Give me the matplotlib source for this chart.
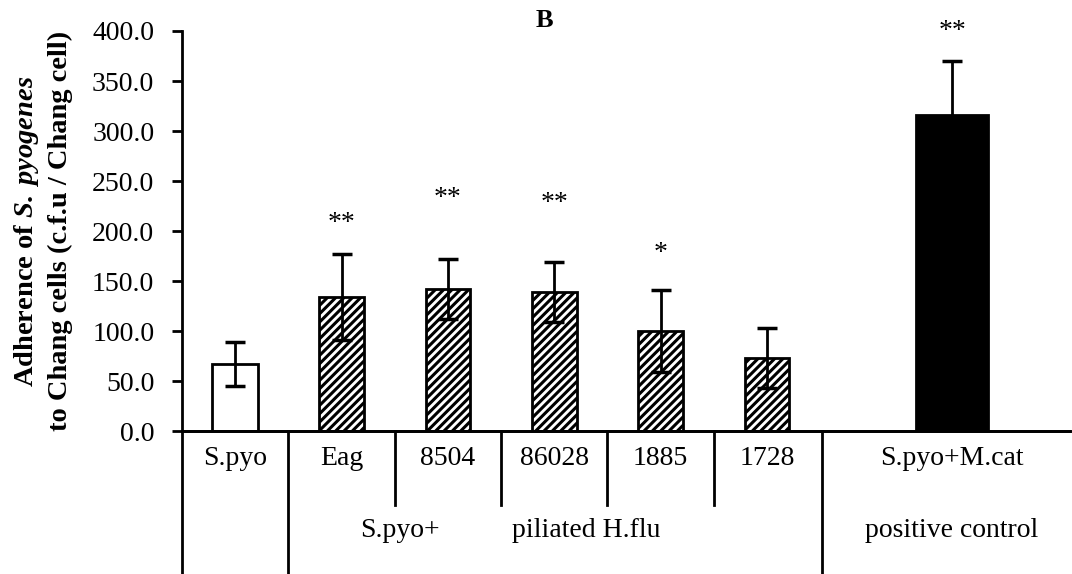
import numpy as np
import matplotlib.pyplot as plt
import matplotlib.transforms as mtransforms

plt.rcParams['font.family'] = ['Liberation Serif', 'DejaVu Serif']
plt.rcParams['mathtext.fontset'] = 'custom'
plt.rcParams['mathtext.rm'] = 'Liberation Serif:bold'
plt.rcParams['mathtext.bfit'] = 'Liberation Serif:bold:italic'
plt.rcParams['hatch.linewidth'] = 2.2

# Dados
categorias = ['S.pyo', 'Eag', '8504', '86028', '1885', '1728', 'S.pyo+M.cat']
medias = [67, 134, 142, 139, 100, 73, 316]
erros = [22, 43, 30, 30, 41, 30, 54]
estrelas = ['', '**', '**', '**', '*', '', '**']
y_estrelas = [0, 208, 233, 228, 178, 0, 399]
grupos = ['S.pyo+', 'piliated H.flu', 'positive control']

# posições no eixo x
pos = np.array([0, 1, 2, 3, 4, 5, 6.74])
larguras = [0.43, 0.42, 0.42, 0.42, 0.42, 0.42, 0.67]
cores = ['white', 'white', 'white', 'white', 'white', 'white', 'black']
hatches = [None, '////', '////', '////', '////', '////', None]

fig = plt.figure(figsize=(10.72, 5.74), dpi=100)
ax = fig.add_axes([0.1698, 0.249, 0.8285, 0.697])

for i in range(len(categorias)):
    ax.bar(pos[i], medias[i], width=larguras[i], color=cores[i],
           edgecolor='black', linewidth=2, hatch=hatches[i], zorder=2)
    ax.errorbar(pos[i], medias[i], yerr=erros[i], fmt='none', ecolor='black',
                elinewidth=2, capsize=7, capthick=2.5, zorder=3)
    if estrelas[i]:
        ax.text(pos[i], y_estrelas[i], estrelas[i], ha='center', va='center',
                fontsize=20, zorder=4)

ax.set_xlim(-0.5, 7.85)
ax.set_ylim(0, 400)
ax.set_yticks(np.arange(0, 401, 50))
ax.set_yticklabels([f'{v:.1f}' for v in np.arange(0, 401, 50)], fontsize=20)
ax.tick_params(axis='y', length=7, width=2, direction='out', pad=13)
ax.set_xticks([])
ax.spines['top'].set_visible(False)
ax.spines['right'].set_visible(False)
ax.spines['left'].set_linewidth(2)
ax.spines['bottom'].set_linewidth(2)

fig.text(0.040, 0.5976,
         'Adherence of $\\mathbfit{S.\\,pyogenes}$\nto Chang cells (c.f.u / Chang cell)',
         rotation=90, ha='center', va='center', fontsize=20.5, fontweight='bold',
         linespacing=1.35)

trans = mtransforms.blended_transform_factory(ax.transData, ax.transAxes)
ax.text(2.91, 1.026, 'B', transform=trans, ha='center', va='center',
        fontsize=19, fontweight='bold')

# tabela abaixo do eixo
ax.plot([-0.5, 7.85], [0, 0], color='black', lw=2, transform=trans, clip_on=False)
for xs in [-0.5, 0.5, 5.52]:
    ax.plot([xs, xs], [0, -0.36], color='black', lw=2, transform=trans, clip_on=False)
for xs in [1.5, 2.5, 3.5, 4.5]:
    ax.plot([xs, xs], [0, -0.185], color='black', lw=2, transform=trans, clip_on=False)

for i, c in enumerate(categorias):
    ax.text(pos[i], -0.068, c, transform=trans, ha='center', va='center', fontsize=20)

ax.text(1.55, -0.248, grupos[0], transform=trans, ha='center', va='center', fontsize=20)
ax.text(3.3, -0.248, grupos[1], transform=trans, ha='center', va='center', fontsize=20)
ax.text(6.74, -0.248, grupos[2], transform=trans, ha='center', va='center', fontsize=20)

fig.savefig('out.png', dpi=100)
